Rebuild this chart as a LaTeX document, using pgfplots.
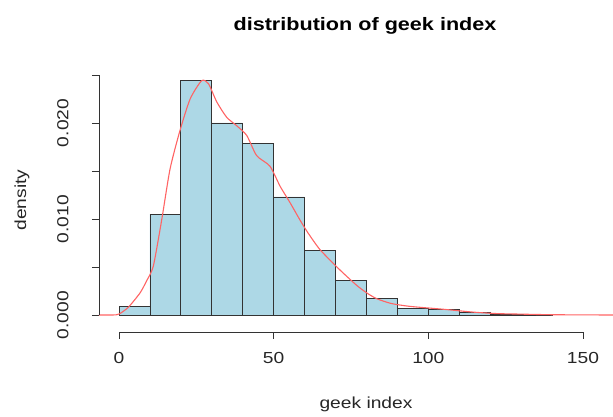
\documentclass[border=0pt]{standalone}
\usepackage{fontspec}
\setmainfont{Liberation Sans}[FakeStretch=1.2]
\usepackage{pgfplots}
\pgfplotsset{compat=1.18}
\definecolor{rlightblue}{HTML}{ADD8E6}
\definecolor{rred}{HTML}{FF6464}
\begin{document}
\begin{tikzpicture}
\begin{axis}[
  at={(0,0)}, anchor=south west,
  scale only axis, width=514pt, height=272pt,
  xmin=-6.466, xmax=159.7,
  ymin=-0.00177, ymax=0.02656,
  clip=false,
  axis line style={draw=none},
  tick align=outside,
  major tick length=7pt,
  tick style={black!80, line width=0.8pt},
  xtick={0,50,100,150},
  xticklabels={0,50,100,150},
  ytick={0,0.005,0.01,0.015,0.02,0.025},
  yticklabels={0.000,,0.010,,0.020,},
  scaled y ticks=false,
  xtick pos=bottom, ytick pos=left,
  /pgf/number format/assume math mode=true,
  ticklabel style={font=\fontsize{16}{19}\selectfont, text=black!85},
  xticklabel style={yshift=-10pt},
  yticklabel style={rotate=90, anchor=south, yshift=20pt},
]
\addplot[ybar interval, fill=rlightblue, draw=black!80, line width=0.8pt] coordinates {
 (0,0.0009) (10,0.0105) (20,0.0244) (30,0.0200) (40,0.0179) (50,0.0123)
 (60,0.0067) (70,0.0036) (80,0.0017) (90,0.0007) (100,0.0006) (110,0.0003)
 (120,0.0001) (130,0.00005) (140,0.00005)
};
\addplot[rred, line width=1.1pt, smooth, tension=0.4] coordinates {
 (-6.5,0) (-2,0) (0,0.0001) (3,0.0008) (6.8,0.0023) (9,0.0036) (11.1,0.0051)
 (13.8,0.0099) (16.5,0.0152) (19.7,0.0192) (23,0.0225) (26.7,0.0244)
 (28.9,0.0241) (31.6,0.0222) (34.8,0.0206) (38.1,0.0197) (41.3,0.0187)
 (44.5,0.0166) (48.8,0.0155) (52.1,0.0134) (55.3,0.0117) (58.5,0.0099)
 (61,0.0086) (65,0.0068) (71.4,0.0047) (76.8,0.0031) (80.1,0.0023)
 (83.3,0.0017) (88,0.0012) (94,0.0009) (104.8,0.0006) (114.5,0.0003)
 (122,0.00015) (128.6,0.0001) (140,0.00003) (159.7,0)
};
\draw[black!80, line width=0.8pt] (axis cs:0,-0.00177) -- (axis cs:150,-0.00177);
\draw[black!80, line width=0.8pt] (axis cs:-6.466,0) -- (axis cs:-6.466,0.025);
\end{axis}
\node[font=\fontsize{18}{22}\selectfont\bfseries] at (266pt,306pt) {distribution of geek index};
\node[font=\fontsize{16}{19}\selectfont, text=black!85] at (267pt,-72pt) {geek index};
\node[font=\fontsize{16}{19}\selectfont, text=black!85, rotate=90] at (-77pt,132pt) {density};
\pgfresetboundingbox
\path (-99pt,-85pt) rectangle (514pt,332pt);
\end{tikzpicture}
\end{document}
